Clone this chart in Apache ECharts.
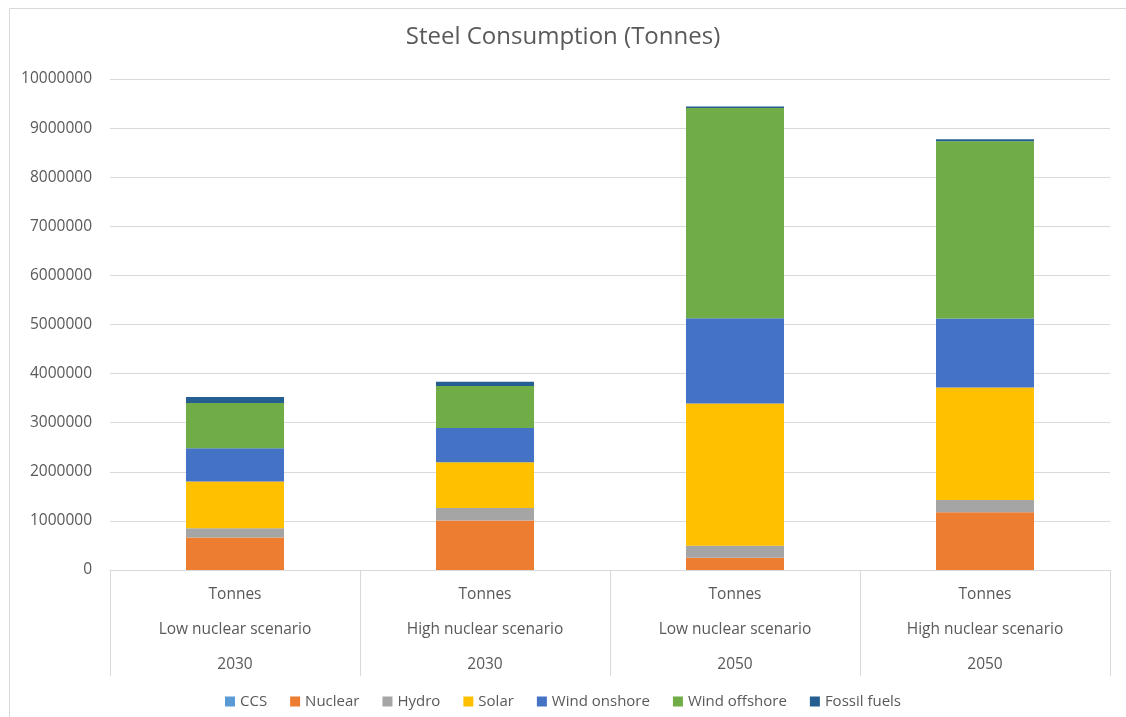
<!DOCTYPE html>
<html>
<head>
<meta charset="utf-8">
<script src="https://cdn.jsdelivr.net/npm/echarts@6/dist/echarts.min.js"></script>
<style>
  html, body { margin: 0; padding: 0; background: #fff; }
  #chart { width: 1126px; height: 717px; }
</style>
</head>
<body>
<div id="chart"></div>
<script>
// categories (three label rows each)
const units = ["Tonnes", "Tonnes", "Tonnes", "Tonnes"];
const scenarios = ["Low nuclear scenario", "High nuclear scenario", "Low nuclear scenario", "High nuclear scenario"];
const years = ["2030", "2030", "2050", "2050"];

// series values, tonnes
const ccs = [0, 0, 0, 0];
const nuclear = [661000, 1006000, 250000, 1174000];
const hydro = [189000, 258000, 243000, 252000];
const solar = [953000, 933000, 2900000, 2292000];
const windOnshore = [677000, 696000, 1736000, 1406000];
const windOffshore = [919000, 852000, 4280000, 3610000];
const fossilFuels = [122000, 87000, 30000, 40000];

const seriesNames = ["CCS", "Nuclear", "Hydro", "Solar", "Wind onshore", "Wind offshore", "Fossil fuels"];
const seriesData = [ccs, nuclear, hydro, solar, windOnshore, windOffshore, fossilFuels];
const colors = ["#5B9BD5", "#ED7D31", "#A5A5A5", "#FFC000", "#4472C4", "#70AD47", "#255E91"];

const textColor = "#595959";
const gridColor = "#d9d9d9";
const font = "'Open Sans', sans-serif";

const chart = echarts.init(document.getElementById("chart"));

let categories = [];
for (let i = 0; i < units.length; i++) {
  categories.push(units[i] + "\n" + scenarios[i] + "\n" + years[i]);
}

let series = [];
for (let i = 0; i < seriesNames.length; i++) {
  series.push({
    name: seriesNames[i],
    type: "bar",
    stack: "total",
    barWidth: 98,
    itemStyle: { color: colors[i] },
    data: seriesData[i],
  });
}

const option = {
  animation: false,
  color: colors,
  textStyle: { fontFamily: font },
  title: {
    text: "Steel Consumption (Tonnes)",
    left: "center",
    top: 20,
    textStyle: { fontFamily: font, fontSize: 24, fontWeight: "normal", color: textColor },
  },
  graphic: [
    {
      type: "rect",
      left: 7,
      top: 6,
      shape: { width: 1130, height: 720 },
      style: { fill: "none", stroke: gridColor, lineWidth: 1 },
      silent: true,
    },
  ],
  legend: {
    bottom: 3,
    left: "center",
    icon: "rect",
    itemWidth: 10,
    itemHeight: 10,
    itemGap: 23,
    textStyle: { fontFamily: font, fontSize: 15, color: textColor },
    data: seriesNames,
  },
  grid: {
    left: 110,
    right: 16,
    top: 79,
    bottom: 147,
  },
  xAxis: {
    type: "category",
    data: categories,
    axisLine: { lineStyle: { color: gridColor, width: 1 } },
    axisTick: { show: true, length: 106, interval: 0, lineStyle: { color: gridColor } },
    axisLabel: {
      interval: 0,
      margin: 7,
      lineHeight: 35,
      fontSize: 15.5,
      fontFamily: font,
      color: textColor,
    },
  },
  yAxis: {
    type: "value",
    min: 0,
    max: 10000000,
    interval: 1000000,
    axisLine: { show: false },
    axisTick: { show: false },
    splitLine: { lineStyle: { color: gridColor, width: 1 } },
    axisLabel: {
      margin: 18,
      fontSize: 15.5,
      fontFamily: font,
      color: textColor,
      formatter: function (v) { return String(v); },
    },
  },
  series: series,
};

chart.setOption(option);
</script>
</body>
</html>
